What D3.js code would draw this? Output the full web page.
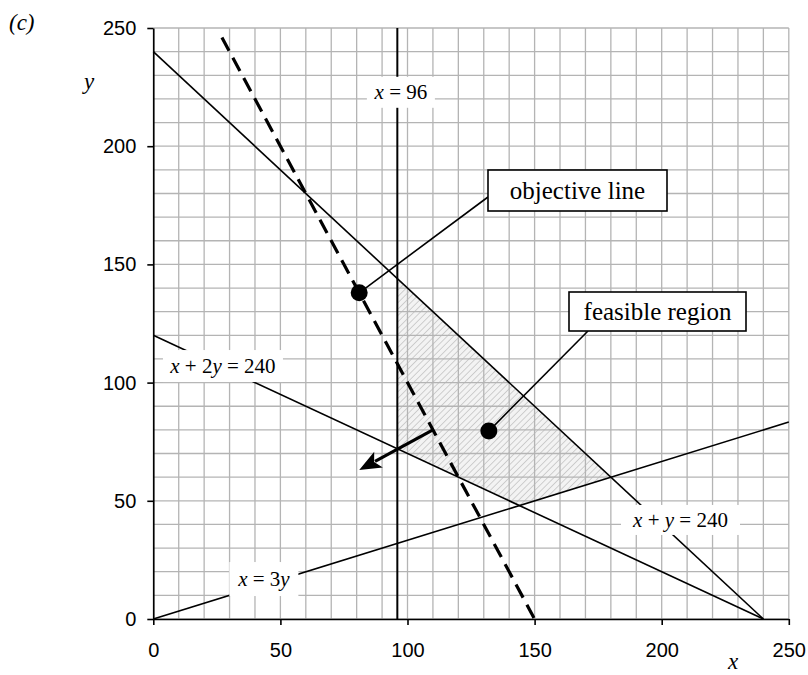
<!DOCTYPE html>
<html>
<head>
<meta charset="utf-8">
<script src="https://d3js.org/d3.v7.min.js"></script>
<style>
body { margin: 0; background: #fff; }
</style>
</head>
<body>
<div id="chart"></div>
<script>
//tick values for both axes
var xTicks = [0, 50, 100, 150, 200, 250];
var yTicks = [0, 50, 100, 150, 200, 250];
var gridValues = d3.range(0, 251, 10);

//constraint lines, as end points in (x, y)
var lineXPlusY = [[0, 240], [240, 0]];
var lineXPlus2Y = [[0, 120], [240, 0]];
var lineX3Y = [[0, 0], [250, 83.3]];
var lineX96 = [[96, 0], [96, 250]];

//objective line 2x + y = 300 (dashed) and the arrow off it
var objectiveLine = [[27, 246], [150, 0]];
var objectiveArrow = [[110, 80], [81, 63]];

//corners of the feasible region
var feasibleRegion = [[96, 144], [180, 60], [144, 48], [96, 72]];

//dots the callouts point at
var objectiveDot = [81, 138];
var feasibleDot = [132, 79.5];

var width = 808;
var height = 675;

var svg = d3.select("#chart").append("svg")
	.attr("width", width)
	.attr("height", height);

var x = d3.scaleLinear().domain([0, 250]).range([153.3, 788.8]);
var y = d3.scaleLinear().domain([0, 250]).range([619, 28]);

var line = d3.line()
	.x(function(d) { return x(d[0]); })
	.y(function(d) { return y(d[1]); });

//hatch pattern for the feasible region
var defs = svg.append("defs");
var pattern = defs.append("pattern")
	.attr("id", "hatch")
	.attr("patternUnits", "userSpaceOnUse")
	.attr("width", 4.5)
	.attr("height", 4.5)
	.attr("patternTransform", "rotate(45)");
pattern.append("rect")
	.attr("width", 4.5)
	.attr("height", 4.5)
	.attr("fill", "#f3f3f3");
pattern.append("line")
	.attr("x1", 0).attr("y1", 0)
	.attr("x2", 0).attr("y2", 4.5)
	.attr("stroke", "#cacaca")
	.attr("stroke-width", 1.8);

svg.append("path")
	.datum(feasibleRegion)
	.attr("d", function(d) { return line(d) + "Z"; })
	.attr("fill", "url(#hatch)");

//grid every 10 units
var grid = svg.append("g");
grid.selectAll(".gx").data(gridValues).enter().append("line")
	.attr("x1", function(d) { return x(d); })
	.attr("x2", function(d) { return x(d); })
	.attr("y1", y(0))
	.attr("y2", y(250));
grid.selectAll(".gy").data(gridValues).enter().append("line")
	.attr("x1", x(0))
	.attr("x2", x(250))
	.attr("y1", function(d) { return y(d); })
	.attr("y2", function(d) { return y(d); });
grid.selectAll("line")
	.attr("stroke", "#b4b4b4")
	.attr("stroke-width", 1.3);

//axes
var xAxis = svg.append("g")
	.attr("transform", "translate(0," + y(0) + ")")
	.call(d3.axisBottom(x).tickValues(xTicks).tickSize(6).tickSizeOuter(0).tickPadding(18));
var yAxis = svg.append("g")
	.attr("transform", "translate(" + x(0) + ",0)")
	.call(d3.axisLeft(y).tickValues(yTicks).tickSize(6).tickSizeOuter(0).tickPadding(11));

[xAxis, yAxis].forEach(function(a)
{
	a.select(".domain").attr("stroke", "#000").attr("stroke-width", 1.6);
	a.selectAll(".tick line").attr("stroke", "#000").attr("stroke-width", 1.6);
	a.selectAll(".tick text")
		.attr("fill", "#000")
		.style("font-family", "'Liberation Sans', Arial, sans-serif")
		.style("font-size", "20px");
});

//constraint lines
[lineXPlusY, lineXPlus2Y, lineX3Y].forEach(function(pts)
{
	svg.append("path")
		.datum(pts)
		.attr("d", line)
		.attr("fill", "none")
		.attr("stroke", "#000")
		.attr("stroke-width", 1.6);
});
svg.append("path")
	.datum(lineX96)
	.attr("d", line)
	.attr("fill", "none")
	.attr("stroke", "#000")
	.attr("stroke-width", 2);

//objective line
svg.append("path")
	.datum(objectiveLine)
	.attr("d", line)
	.attr("fill", "none")
	.attr("stroke", "#000")
	.attr("stroke-width", 3.2)
	.attr("stroke-dasharray", "15,8");

//arrow with a solid head
var a0 = [x(objectiveArrow[0][0]), y(objectiveArrow[0][1])];
var a1 = [x(objectiveArrow[1][0]), y(objectiveArrow[1][1])];
var ang = Math.atan2(a1[1] - a0[1], a1[0] - a0[0]);
var headLen = 22;
var headW = 9;
var base = [a1[0] - headLen * Math.cos(ang), a1[1] - headLen * Math.sin(ang)];
svg.append("line")
	.attr("x1", a0[0]).attr("y1", a0[1])
	.attr("x2", base[0] + 4 * Math.cos(ang)).attr("y2", base[1] + 4 * Math.sin(ang))
	.attr("stroke", "#000")
	.attr("stroke-width", 3.2);
var notch = [a1[0] - (headLen - 5) * Math.cos(ang), a1[1] - (headLen - 5) * Math.sin(ang)];
svg.append("path")
	.attr("d", "M" + a1[0] + "," + a1[1]
		+ "L" + (base[0] - headW * Math.sin(ang)) + "," + (base[1] + headW * Math.cos(ang))
		+ "L" + notch[0] + "," + notch[1]
		+ "L" + (base[0] + headW * Math.sin(ang)) + "," + (base[1] - headW * Math.cos(ang)) + "Z")
	.attr("fill", "#000");

//labels on the lines, white boxes behind italic text
var serif = "'Liberation Serif', 'Times New Roman', serif";
function lineLabel(cx, cy, w, h, parts)
{
	var px = x(cx);
	var py = y(cy);
	svg.append("rect")
		.attr("x", px - w / 2)
		.attr("y", py - h / 2)
		.attr("width", w)
		.attr("height", h)
		.attr("fill", "#fff");
	var t = svg.append("text")
		.attr("x", px)
		.attr("y", py + 7)
		.attr("text-anchor", "middle")
		.style("font-family", serif)
		.style("font-size", "21px");
	parts.forEach(function(p)
	{
		t.append("tspan")
			.style("font-style", p[1] ? "italic" : "normal")
			.text(p[0]);
	});
}

lineLabel(97.4, 222.8, 68, 31, [["x", true], [" = 96", false]]);
lineLabel(27.4, 107, 120, 32, [["x", true], [" + 2", false], ["y", true], [" = 240", false]]);
lineLabel(207.4, 41.9, 119, 30, [["x", true], [" + ", false], ["y", true], [" = 240", false]]);
lineLabel(43.5, 16.9, 69, 34, [["x", true], [" = 3", false], ["y", true]]);

//callouts: leader line, dot, boxed text
function callout(dot, bx, by, bw, bh, ex, ey, label)
{
	svg.append("line")
		.attr("x1", x(dot[0])).attr("y1", y(dot[1]))
		.attr("x2", ex).attr("y2", ey)
		.attr("stroke", "#000")
		.attr("stroke-width", 1.6);
	svg.append("circle")
		.attr("cx", x(dot[0]))
		.attr("cy", y(dot[1]))
		.attr("r", 8.5)
		.attr("fill", "#000");
	svg.append("rect")
		.attr("x", bx).attr("y", by)
		.attr("width", bw).attr("height", bh)
		.attr("fill", "#fff")
		.attr("stroke", "#000")
		.attr("stroke-width", 1.6);
	svg.append("text")
		.attr("x", bx + bw / 2)
		.attr("y", by + bh / 2 + 8)
		.attr("text-anchor", "middle")
		.style("font-family", serif)
		.style("font-size", "25px")
		.text(label);
}

callout(objectiveDot, 488, 170, 179, 41, 488, 197, "objective line");
callout(feasibleDot, 569, 292, 177, 39, 588, 331, "feasible region");

//axis names and part label
svg.append("text")
	.attr("x", 9).attr("y", 30)
	.style("font-family", serif)
	.style("font-style", "italic")
	.style("font-size", "23px")
	.text("(c)");
svg.append("text")
	.attr("x", 89).attr("y", 89)
	.attr("text-anchor", "middle")
	.style("font-family", serif)
	.style("font-style", "italic")
	.style("font-size", "23px")
	.text("y");
svg.append("text")
	.attr("x", 733).attr("y", 669)
	.attr("text-anchor", "middle")
	.style("font-family", serif)
	.style("font-style", "italic")
	.style("font-size", "23px")
	.text("x");
</script>
</body>
</html>
